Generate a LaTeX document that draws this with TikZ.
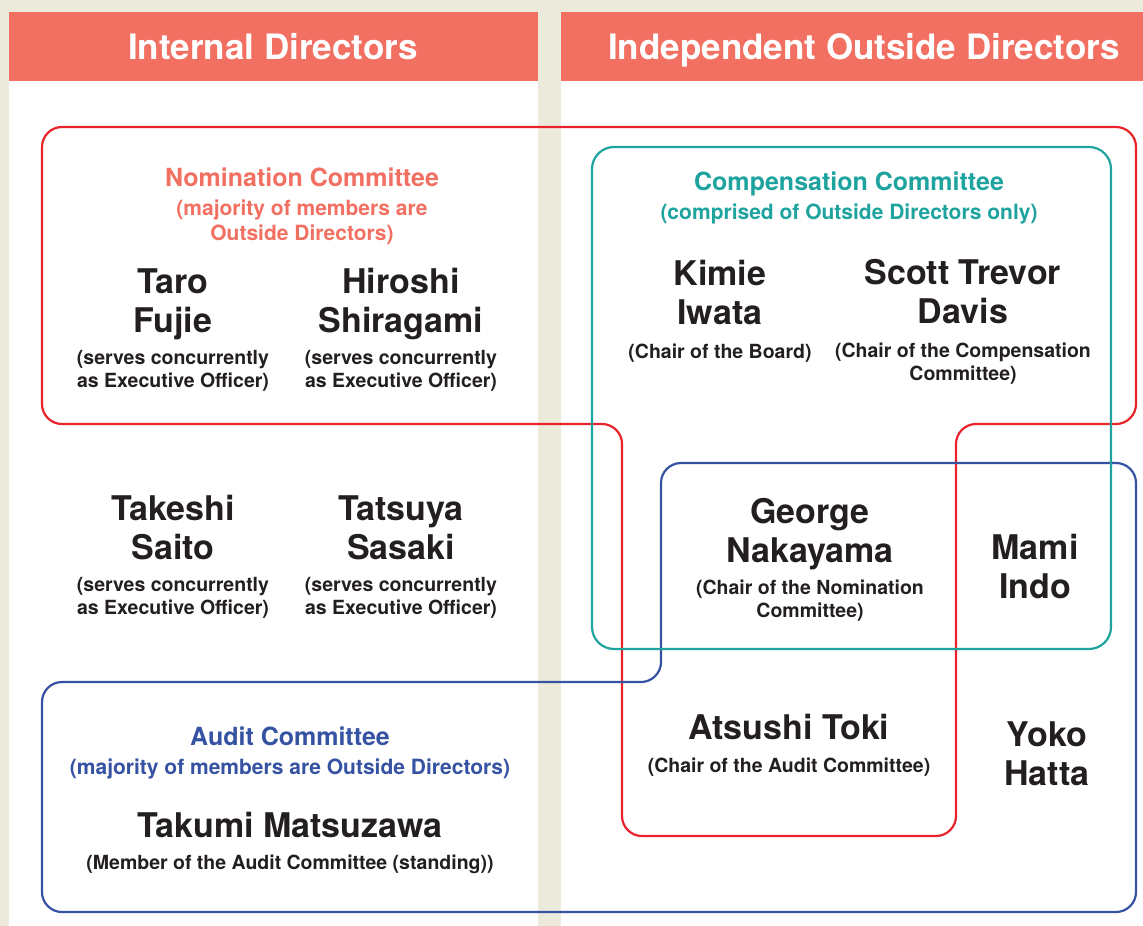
\documentclass[tikz,border=0pt]{standalone}
\usepackage{fontspec}
\setmainfont{TeX Gyre Heros}
\definecolor{paper}{HTML}{ECEBDB}
\definecolor{salmon}{HTML}{F27062}
\definecolor{nomired}{HTML}{E8232B}
\definecolor{compteal}{HTML}{1EA39F}
\definecolor{auditblue}{HTML}{3652A2}
\definecolor{ink}{HTML}{231F20}
\begin{document}
\begin{tikzpicture}[x=1pt, y=-1pt, line join=round,
	every node/.style={inner sep=0pt, outer sep=0pt, anchor=center},
	head/.style={text=white, font=\fontsize{35}{40}\selectfont\bfseries},
	member/.style={text=ink, align=center, font=\fontsize{34}{39}\selectfont\bfseries},
	duty/.style={text=ink, align=center, font=\fontsize{19.5}{23}\selectfont\bfseries},
	cttitle/.style={align=center, font=\fontsize{25}{30}\selectfont\bfseries},
	ctnote/.style={align=center, font=\fontsize{21}{25}\selectfont\bfseries},
	ring/.style={line width=2.2pt, rounded corners=20pt}]
	
	% nền và hai cột
	\fill[paper] (0, 0) rectangle (1143, 926);
	\fill[white] (9, 12) rectangle (538, 926);
	\fill[white] (561, 12) rectangle (1143, 926);
	\fill[salmon] (9, 12) rectangle (538, 81);
	\fill[salmon] (561, 12) rectangle (1143, 81);
	\node[head] (internal) at (273, 47) {Internal Directors};
	\node[head] (outside) at (864, 50) {Independent Outside Directors};
	
	% Nomination Committee
	\draw[ring, nomired] (42, 127) -- (1136, 127) -- (1136, 424) -- (956, 424) -- (956, 836)
		-- (622, 836) -- (622, 424) -- (42, 424) -- cycle;
	% Audit Committee
	\draw[ring, auditblue] (42, 682) -- (661, 682) -- (661, 463) -- (1136, 463) -- (1136, 912)
		-- (42, 912) -- cycle;
	% Compensation Committee
	\draw[ring, rounded corners=22pt, compteal] (592, 147) rectangle (1111, 649);
	
	% Nomination Committee
	\node[cttitle, text=salmon] (nomi) at (302, 177) {Nomination Committee};
	\node[ctnote, text=salmon] (nomi-note) at (302, 222) {(majority of members are\\Outside Directors)};
	\node[member] (fujie) at (173, 304) {Taro\\Fujie};
	\node[duty] (fujie-role) at (173, 371) {(serves concurrently\\as Executive Officer)};
	\node[member] (shiragami) at (401, 304) {Hiroshi\\Shiragami};
	\node[duty] (shiragami-role) at (401, 371) {(serves concurrently\\as Executive Officer)};
	
	% thành viên khác
	\node[member] (saito) at (173, 528) {Takeshi\\Saito};
	\node[duty] (saito-role) at (173, 598) {(serves concurrently\\as Executive Officer)};
	\node[member] (sasaki) at (401, 528) {Tatsuya\\Sasaki};
	\node[duty] (sasaki-role) at (401, 598) {(serves concurrently\\as Executive Officer)};
	
	% Compensation Committee
	\node[cttitle, text=compteal] (comp) at (849, 184) {Compensation Committee};
	\node[ctnote, text=compteal] (comp-note) at (849, 214) {(comprised of Outside Directors only)};
	\node[member] (iwata) at (720, 292) {Kimie\\Iwata};
	\node[duty] (iwata-role) at (720, 353) {(Chair of the Board)};
	\node[member] (davis) at (963, 292) {Scott Trevor\\Davis};
	\node[duty] (davis-role) at (963, 364) {(Chair of the Compensation\\Committee)};
	\node[member] (nakayama) at (810, 534) {George\\Nakayama};
	\node[duty] (nakayama-role) at (810, 601) {(Chair of the Nomination\\Committee)};
	\node[member] (indo) at (1035, 566) {Mami\\Indo};
	
	% Audit Committee
	\node[cttitle, text=auditblue] (audit) at (290, 736) {Audit Committee};
	\node[ctnote, text=auditblue] (audit-note) at (290, 769) {(majority of members are Outside Directors)};
	\node[member] (matsuzawa) at (290, 825) {Takumi Matsuzawa};
	\node[duty] (matsuzawa-role) at (290, 864) {(Member of the Audit Committee (standing))};
	\node[member] (toki) at (789, 727) {Atsushi Toki};
	\node[duty] (toki-role) at (789, 767) {(Chair of the Audit Committee)};
	\node[member] (hatta) at (1047, 754) {Yoko\\Hatta};
	
\end{tikzpicture}
\end{document}
